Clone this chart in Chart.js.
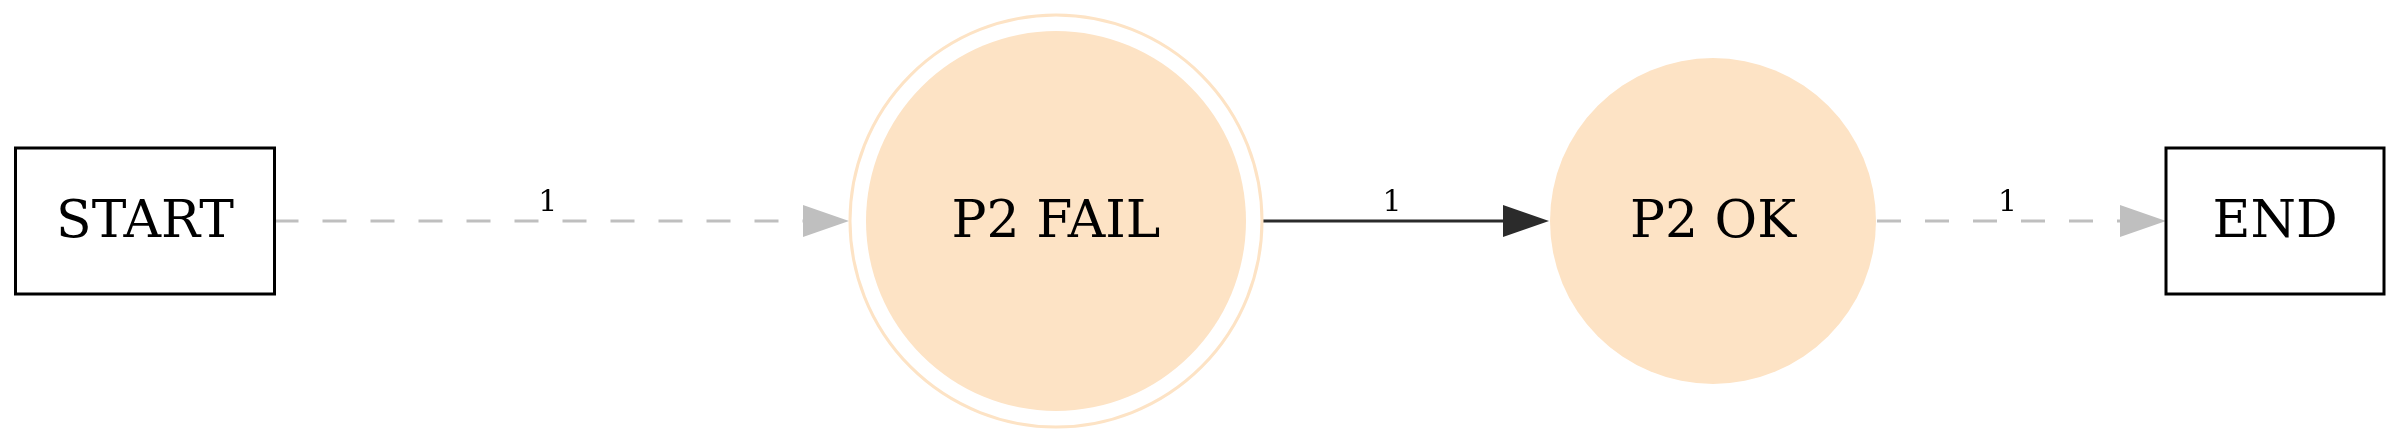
<!DOCTYPE html>
<html>
<head>
<meta charset="utf-8">
<script src="https://cdn.jsdelivr.net/npm/chart.js@4/dist/chart.umd.min.js"></script>
<style>
  html, body { margin: 0; padding: 0; background: #fff; }
  #wrap { width: 2400px; height: 442px; }
</style>
</head>
<body>
<div id="wrap"><canvas id="flow"></canvas></div>
<script>
/* ===== DATA ===== */
const nodeNames = ["START", "P2 FAIL", "P2 OK", "END"];
const nodeKinds = ["box", "doublecircle", "circle", "box"];
const edgeFrom = ["START", "P2 FAIL", "P2 OK"];
const edgeTo = ["P2 FAIL", "P2 OK", "END"];
const edgeWeights = [1, 1, 1];
const edgeDashed = [true, false, true];

/* ===== LAYOUT (graph coordinates, scale units) ===== */
const layout = {
  "START":   { x: 145,  y: 221, w: 259, h: 146 },
  "P2 FAIL": { x: 1056, y: 221, r: 190, ring: 206 },
  "P2 OK":   { x: 1713, y: 221, r: 163 },
  "END":     { x: 2275, y: 221, w: 218, h: 146 }
};
const FILL = "#fde3c5";
const FONT = "'DejaVu Serif', serif";

function boundary(name, dir) {
  // x offset from centre to node border along a horizontal edge
  const n = layout[name];
  if (n.w) return n.w / 2;
  return (n.ring || n.r) + 1;
}

const graphPlugin = {
  id: "graph",
  afterDatasetsDraw(chart) {
    const { ctx, scales: { x, y } } = chart;
    const px = v => x.getPixelForValue(v);
    const py = v => y.getPixelForValue(v);
    const ux = d => px(d) - px(0);
    ctx.save();

    // edges
    edgeFrom.forEach((from, i) => {
      const a = layout[from], b = layout[edgeTo[i]];
      const x0 = px(a.x + boundary(from)), x1 = px(b.x - boundary(edgeTo[i]));
      const yy = py(a.y);
      const col = edgeDashed[i] ? "#bfbfbf" : "#2b2b2b";
      const head = ux(46), hh = 16;
      ctx.strokeStyle = col;
      ctx.lineWidth = 3;
      ctx.setLineDash(edgeDashed[i] ? [24, 24] : []);
      ctx.beginPath();
      ctx.moveTo(x0, yy);
      ctx.lineTo(x1 - head, yy);
      ctx.stroke();
      ctx.setLineDash([]);
      ctx.fillStyle = col;
      ctx.beginPath();
      ctx.moveTo(x1, yy);
      ctx.lineTo(x1 - head, yy - hh);
      ctx.lineTo(x1 - head, yy + hh);
      ctx.closePath();
      ctx.fill();
      // weight label
      ctx.fillStyle = "#000";
      ctx.font = "30px " + FONT;
      ctx.textAlign = "center";
      ctx.textBaseline = "alphabetic";
      ctx.fillText(String(edgeWeights[i]), (x0 + x1) / 2 - ux(14), yy - 10);
    });

    // nodes
    nodeNames.forEach((name, i) => {
      const n = layout[name];
      const cx = px(n.x), cy = py(n.y);
      if (nodeKinds[i] === "box") {
        ctx.fillStyle = "#fff";
        ctx.strokeStyle = "#000";
        ctx.lineWidth = 3;
        const w = ux(n.w), h = n.h;
        ctx.fillRect(cx - w / 2, cy - h / 2, w, h);
        ctx.strokeRect(cx - w / 2, cy - h / 2, w, h);
      } else {
        if (nodeKinds[i] === "doublecircle") {
          ctx.strokeStyle = FILL;
          ctx.lineWidth = 3;
          ctx.beginPath();
          ctx.arc(cx, cy, n.ring, 0, Math.PI * 2);
          ctx.stroke();
        }
        ctx.fillStyle = FILL;
        ctx.beginPath();
        ctx.arc(cx, cy, n.r, 0, Math.PI * 2);
        ctx.fill();
      }
      ctx.fillStyle = "#000";
      ctx.font = "52px " + FONT;
      ctx.textAlign = "center";
      ctx.textBaseline = "middle";
      ctx.fillText(name, cx, cy + 2);
    });
    ctx.restore();
  }
};

new Chart(document.getElementById("flow"), {
  type: "scatter",
  data: {
    datasets: [{
      data: nodeNames.map(n => ({ x: layout[n].x, y: layout[n].y })),
      pointRadius: 0
    }]
  },
  options: {
    responsive: true,
    maintainAspectRatio: false,
    animation: false,
    layout: { padding: 0 },
    plugins: { legend: { display: false }, tooltip: { enabled: false } },
    scales: {
      x: { type: "linear", min: 0, max: 2400, display: false },
      y: { type: "linear", min: 0, max: 442, reverse: true, display: false }
    }
  },
  plugins: [graphPlugin]
});
</script>
</body>
</html>
